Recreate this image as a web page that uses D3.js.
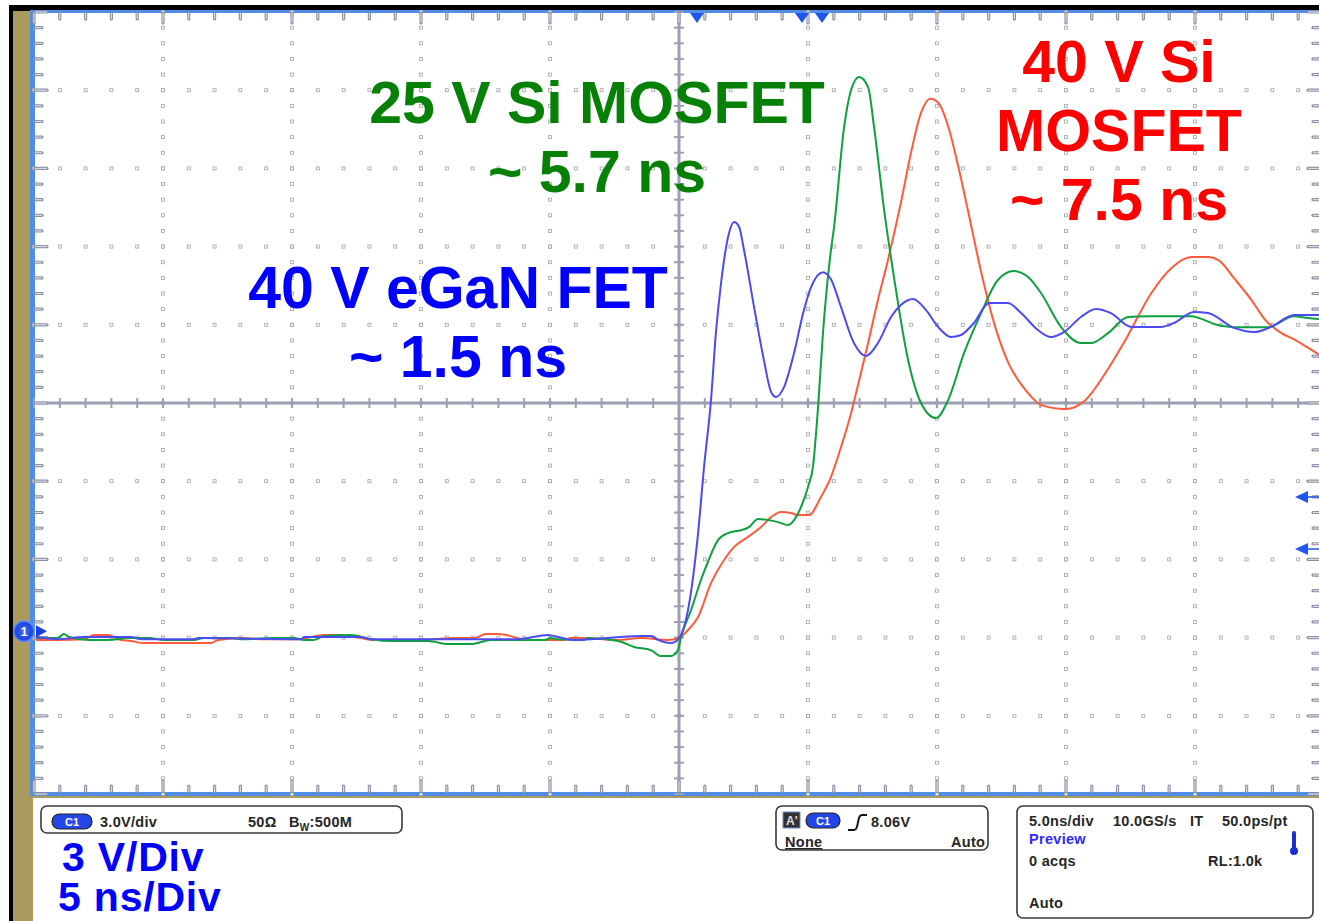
<!DOCTYPE html>
<html>
<head>
<meta charset="utf-8">
<script src="https://cdn.jsdelivr.net/npm/d3@7"></script>
<style>
  body { margin: 0; background: #fff; }
  svg { display: block; font-family: "Liberation Sans", Arial, sans-serif; }
</style>
</head>
<body>
<svg id="scope" width="1319" height="921"></svg>
<script>
// ---- data (time in ns, volts in V) ----
const ganTime = [-24.92,-24.07,-23.06,-21.24,-20.85,-18.80,-18.64,-14.65,-14.53,-12.33,-11.94,-8.57,-6.24,-5.08,-4.84,-4.07,-3.41,-1.47,-1.09,-0.81,-0.31,0,0.35,0.74,0.97,1.24,1.43,1.63,1.94,2.13,2.33,2.52,2.91,3.29,3.57,3.76,4.07,4.46,4.84,5.12,5.58,5.89,6.28,6.78,7.25,7.71,8.22,8.60,9.07,9.57,10.04,10.54,10.93,11.43,12.02,12.75,13.26,13.91,14.42,14.92,15.58,16.16,16.74,17.52,18.68,19.19,19.96,20.50,21.51,22.29,22.95,23.84,24.84];
const ganVolts = [-0.22,-0.30,-0.22,-0.22,-0.30,-0.30,-0.26,-0.30,-0.22,-0.22,-0.30,-0.30,-0.30,-0.14,-0.18,-0.33,-0.30,-0.18,-0.18,-0.33,-0.45,-0.26,0.82,3.77,6.30,8.87,11.44,13.36,15.28,15.70,15.51,14.63,12.44,10.41,9.18,8.99,9.37,10.68,12.32,13.21,13.78,13.51,12.44,11.06,10.56,11.06,12.06,12.52,12.75,12.33,11.68,11.29,11.37,11.83,12.60,12.60,12.21,11.56,11.29,11.48,12.06,12.37,12.21,11.68,11.68,11.83,12.25,12.21,11.64,11.48,11.68,12.14,12.14];

const si25Time = [-24.92,-24.07,-23.84,-23.64,-22.87,-22.13,-21.32,-20.54,-19.96,-18.80,-18.41,-17.36,-16.86,-15.81,-14.92,-14.53,-14.15,-13.76,-12.71,-11.94,-11.05,-9.73,-8.95,-8.06,-7.29,-6.24,-5.23,-4.96,-4.69,-3.68,-3.53,-2.36,-1.74,-1.09,-0.70,-0.31,-0.04,0.08,0.47,0.85,1.12,1.51,1.90,2.40,2.71,3.06,3.45,3.84,4.22,4.46,4.73,5.00,5.19,5.39,5.58,5.89,6.01,6.40,6.67,6.98,7.33,7.56,7.95,8.33,8.88,9.38,9.96,10.43,11.05,11.71,12.36,12.98,13.53,14.03,14.81,15.58,15.97,16.63,17.40,18.18,19.19,19.84,20.89,21.51,22.44,22.83,23.84,24.38,24.84];
const si25Volts = [-0.26,-0.26,-0.10,-0.22,-0.33,-0.33,-0.26,-0.26,-0.33,-0.33,-0.26,-0.26,-0.30,-0.26,-0.26,-0.33,-0.33,-0.18,-0.14,-0.30,-0.37,-0.37,-0.49,-0.49,-0.33,-0.33,-0.33,-0.26,-0.30,-0.33,-0.26,-0.37,-0.60,-0.72,-0.95,-0.95,-0.72,-0.22,0.82,1.97,2.66,3.50,3.77,3.88,4.00,4.31,4.27,4.19,4.08,4.27,4.77,5.54,6.30,8.60,11.44,14.63,15.51,19.35,20.77,21.27,20.88,19.35,16.17,13.60,10.41,8.76,8.18,8.87,10.68,12.21,13.48,13.82,13.59,12.98,11.67,11.06,11.06,11.44,12.06,12.09,12.09,12.09,11.75,11.67,11.67,11.67,12.09,12.02,11.98];

const si40Time = [-24.92,-24.07,-23.06,-22.67,-22.13,-21.74,-21.24,-20.74,-18.14,-17.87,-16.86,-16.09,-14.77,-13.76,-13.22,-12.33,-11.94,-10.12,-8.57,-7.95,-7.48,-7.02,-6.24,-6.01,-4.46,-4.19,-3.80,-2.36,-1.47,-0.43,0,0.35,0.74,1.24,1.74,2.13,2.67,3.18,3.57,3.95,4.34,4.61,5.04,5.50,5.89,6.28,6.67,6.94,7.33,7.71,8.10,8.60,8.99,9.38,9.74,10.06,10.44,10.83,11.22,11.72,12.26,12.77,13.43,14.05,14.98,15.75,16.53,17.30,18.31,19.09,19.86,20.52,20.91,21.57,22.19,22.73,23.35,23.90,24.28,24.84];
const si40Volts = [-0.33,-0.33,-0.30,-0.14,-0.14,-0.30,-0.37,-0.45,-0.45,-0.33,-0.26,-0.30,-0.30,-0.14,-0.14,-0.26,-0.33,-0.33,-0.26,-0.26,-0.10,-0.10,-0.26,-0.33,-0.33,-0.26,-0.26,-0.33,-0.26,-0.33,-0.26,0.05,0.55,1.85,2.73,3.23,3.62,4.00,4.38,4.58,4.54,4.46,4.46,5.15,5.92,7.07,8.37,9.45,11.06,12.71,14.25,16.44,18.35,19.89,20.43,20.27,19.35,17.81,16.05,13.75,11.67,10.29,9.26,8.68,8.53,8.87,9.91,11.17,12.98,13.94,14.36,14.36,14.24,13.48,12.71,11.94,11.44,11.17,10.94,10.60];

const ganLabel = ["40 V eGaN FET", "~ 1.5 ns"];
const si25Label = ["25 V Si MOSFET", "~ 5.7 ns"];
const si40Label = ["40 V Si", "MOSFET", "~ 7.5 ns"];
const scaleLabel = ["3 V/Div", "5 ns/Div"];

const nsPerDiv = 5, voltsPerDiv = 3, vBottom = -6.24;

// ---- layout ----
const svg = d3.select("#scope");
const W = 1319, H = 921;
const plot = { left: 34, right: 1324, top: 12, bottom: 794 };

const x = d3.scaleLinear().domain([-5 * nsPerDiv, 5 * nsPerDiv]).range([plot.left, plot.right]);
const y = d3.scaleLinear().domain([vBottom, vBottom + 10 * voltsPerDiv]).range([plot.bottom, plot.top]);

const majorT = d3.range(-5, 6).map(i => i * nsPerDiv);
const minorT = d3.range(-25, 26).map(i => i * nsPerDiv / 5);
const majorV = d3.range(0, 11).map(i => vBottom + i * voltsPerDiv);
const minorV = d3.range(0, 51).map(i => vBottom + i * voltsPerDiv / 5);
const centerV = vBottom + 5 * voltsPerDiv;
const isMajorT = t => Math.abs(t / nsPerDiv - Math.round(t / nsPerDiv)) < 1e-6;
const isMajorV = v => Math.abs((v - vBottom) / voltsPerDiv - Math.round((v - vBottom) / voltsPerDiv)) < 1e-6;

svg.append("rect").attr("width", W).attr("height", H).attr("fill", "#fff");

// bezel
svg.append("rect").attr("x", 9).attr("y", 5).attr("width", W).attr("height", 6).attr("fill", "#000");
svg.append("rect").attr("x", 9).attr("y", 5).attr("width", 4).attr("height", H).attr("fill", "#000");
svg.append("rect").attr("x", 13).attr("y", 11).attr("width", 20).attr("height", H).attr("fill", "#ab9a5e");
svg.append("rect").attr("x", 13).attr("y", 795).attr("width", W).attr("height", 3).attr("fill", "#ab9a5e");
svg.append("rect").attr("x", 30).attr("y", 10).attr("width", 5).attr("height", 786).attr("fill", "#4f8de8");
svg.append("rect").attr("x", 30).attr("y", 10).attr("width", W).attr("height", 3).attr("fill", "#4f8de8");
svg.append("rect").attr("x", 30).attr("y", 792).attr("width", W).attr("height", 4).attr("fill", "#4f8de8");

const g = svg.append("g");

// dotted graticule
const dots = [];
majorT.filter(t => t !== 0 && Math.abs(t) < 25).forEach(t =>
  minorV.forEach(v => dots.push([x(t), y(v)])));
majorV.filter(v => Math.abs(v - centerV) > 1e-6 && v > vBottom + 0.1 && v < vBottom + 29.9).forEach(v =>
  minorT.forEach(t => dots.push([x(t), y(v)])));
g.selectAll("rect.dot").data(dots).join("rect")
  .attr("class", "dot")
  .attr("x", d => d[0] - 1.5).attr("y", d => d[1] - 1.5)
  .attr("width", 3).attr("height", 3)
  .attr("fill", "#fff").attr("stroke", "#a2a2a2").attr("stroke-width", 0.8);

// centre axes
const tickCol = "#9ba0b2";
g.append("line").attr("x1", x(0)).attr("x2", x(0)).attr("y1", plot.top).attr("y2", plot.bottom)
  .attr("stroke", tickCol).attr("stroke-width", 3);
g.append("line").attr("x1", plot.left).attr("x2", plot.right).attr("y1", y(centerV)).attr("y2", y(centerV))
  .attr("stroke", tickCol).attr("stroke-width", 3);
g.selectAll("line.cv").data(minorV).join("line").attr("class", "cv")
  .attr("x1", x(0) - 5).attr("x2", x(0) + 5)
  .attr("y1", d => y(d)).attr("y2", d => y(d))
  .attr("stroke", tickCol).attr("stroke-width", 2);
g.selectAll("line.ch").data(minorT).join("line").attr("class", "ch")
  .attr("x1", d => x(d)).attr("x2", d => x(d))
  .attr("y1", y(centerV) - 5).attr("y2", y(centerV) + 5)
  .attr("stroke", tickCol).attr("stroke-width", 2);

// edge ticks
function edgeTicks(cls, data, fn) {
  const sel = g.selectAll("g." + cls).data(data).join("g").attr("class", cls);
  sel.append("line").call(fn).attr("stroke", "#8c91a3").attr("stroke-width", 3.2).attr("stroke-linecap", "round");
  sel.append("line").call(fn).attr("stroke", "#e4e6ee").attr("stroke-width", 1);
}
edgeTicks("tt", minorT, s => s.attr("x1", d => x(d)).attr("x2", d => x(d))
  .attr("y1", plot.top + 1).attr("y2", d => plot.top + (isMajorT(d) ? 11 : 7)));
edgeTicks("bt", minorT, s => s.attr("x1", d => x(d)).attr("x2", d => x(d))
  .attr("y1", plot.bottom - 2).attr("y2", d => plot.bottom - (isMajorT(d) ? 13 : 8)));
edgeTicks("lt", minorV, s => s.attr("y1", d => y(d)).attr("y2", d => y(d))
  .attr("x1", plot.left + 1).attr("x2", d => plot.left + (isMajorV(d) ? 13 : 8)));
edgeTicks("rt", minorV, s => s.attr("y1", d => y(d)).attr("y2", d => y(d))
  .attr("x1", plot.right - 4).attr("x2", d => plot.right - (isMajorV(d) ? 16 : 11)));

// traces
svg.append("clipPath").attr("id", "clip").append("rect")
  .attr("x", plot.left).attr("y", plot.top).attr("width", plot.right - plot.left).attr("height", plot.bottom - plot.top);
const line = d3.line().x(d => x(d[0])).y(d => y(d[1])).curve(d3.curveMonotoneX);
const traces = [
  { t: si40Time, v: si40Volts, color: "#ff5a3c" },
  { t: si25Time, v: si25Volts, color: "#0fa040" },
  { t: ganTime, v: ganVolts, color: "#4b4bf4" }
];
svg.append("g").attr("clip-path", "url(#clip)").selectAll("path").data(traces).join("path")
  .attr("d", d => line(d3.zip(d.t, d.v)))
  .attr("fill", "none").attr("stroke", d => d.color).attr("stroke-width", 2)
  .attr("stroke-linejoin", "round");

// markers: time references on top, level arrows on right, ground on left
const markBlue = "#1e56ee";
[697, 802, 822].forEach(px => svg.append("path")
  .attr("d", `M${px - 7},13 L${px + 7},13 L${px},23 Z`).attr("fill", markBlue));
[497, 549].forEach(py => {
  svg.append("line").attr("x1", 1305).attr("x2", 1319).attr("y1", py).attr("y2", py)
    .attr("stroke", markBlue).attr("stroke-width", 1.5);
  svg.append("path").attr("d", `M1295,${py} L1308,${py - 6} L1308,${py + 6} Z`).attr("fill", markBlue);
});
const gy = y(0);
svg.append("path").attr("d", `M36,${gy - 6} L47,${gy} L36,${gy + 6} Z`).attr("fill", "#1a3ee0");
const grad = svg.append("defs").append("radialGradient").attr("id", "gball");
grad.append("stop").attr("offset", "0%").attr("stop-color", "#3b6cf5");
grad.append("stop").attr("offset", "75%").attr("stop-color", "#1f46e0");
grad.append("stop").attr("offset", "100%").attr("stop-color", "#6d9cff");
svg.append("circle").attr("cx", 24).attr("cy", gy).attr("r", 11).attr("fill", "url(#gball)");
svg.append("text").attr("x", 24).attr("y", gy + 5).attr("text-anchor", "middle")
  .attr("fill", "#fff").attr("font-size", 13).attr("font-weight", "bold").text("1");

// annotations
function label(lines, cx, y0, color) {
  svg.append("text").attr("text-anchor", "middle").attr("fill", color)
    .attr("font-size", 59).attr("font-weight", "bold")
    .selectAll("tspan").data(lines).join("tspan")
    .attr("x", cx).attr("y", (d, i) => y0 + i * 69).text(d => d);
}
label(si25Label, 597, 123, "#078007");
label(ganLabel, 458, 308, "#0000ff");
label(si40Label, 1119, 82, "#ff0000");

scaleLabel.forEach((s, i) => svg.append("text")
  .attr("x", i ? 58 : 62).attr("y", 871 + i * 40)
  .attr("fill", "#0000ff").attr("font-size", 41).attr("font-weight", "bold")
  .attr("letter-spacing", 0.8).text(s));

// status boxes
const ink = "#262626";
function box(bx, by, bw, bh) {
  svg.append("rect").attr("x", bx).attr("y", by).attr("width", bw).attr("height", bh).attr("rx", 6)
    .attr("fill", "#fff").attr("stroke", "#3a3a3a").attr("stroke-width", 1.6);
}
function small(tx, ty, s, opts = {}) {
  return svg.append("text").attr("x", tx).attr("y", ty).attr("font-size", opts.size || 14.5)
    .attr("font-weight", "bold").attr("letter-spacing", 0.3).attr("fill", opts.fill || ink).text(s);
}
function pill(px, py, pw) {
  svg.append("rect").attr("x", px).attr("y", py).attr("width", pw).attr("height", 15).attr("rx", 7.5)
    .attr("fill", "#2446e6").attr("stroke", "#222").attr("stroke-width", 1.2);
  svg.append("text").attr("x", px + pw / 2).attr("y", py + 11.5).attr("text-anchor", "middle")
    .attr("font-size", 11).attr("font-weight", "bold").attr("fill", "#fff").text("C1");
}

box(41, 806, 361, 27);
pill(52, 814, 40);
small(100, 827, "3.0V/div");
small(248, 827, "50Ω");
const bw = small(289, 827, "B");
bw.append("tspan").attr("dy", 4).attr("font-size", 10).text("W");
bw.append("tspan").attr("dy", -4).text(":500M");

box(776, 806, 212, 44);
svg.append("rect").attr("x", 783).attr("y", 812).attr("width", 17).attr("height", 16).attr("fill", "#333")
  .attr("stroke", "#6a8fd8").attr("stroke-width", 1);
svg.append("text").attr("x", 786).attr("y", 825).attr("font-size", 12).attr("font-weight", "bold")
  .attr("fill", "#ddd").text("A'");
pill(806, 813, 34);
svg.append("path").attr("d", "M848,830 L854,830 Q857,830 858,822 Q859,815 862,815 L867,815")
  .attr("fill", "none").attr("stroke", "#111").attr("stroke-width", 2);
small(871, 827, "8.06V");
small(785, 847, "None").attr("text-decoration", "underline");
small(951, 847, "Auto");

box(1017, 806, 296, 112);
small(1029, 826, "5.0ns/div");
small(1113, 826, "10.0GS/s");
small(1190, 826, "IT");
small(1222, 826, "50.0ps/pt");
small(1029, 844, "Preview", { fill: "#2b2bff" });
small(1029, 866, "0 acqs");
small(1208, 866, "RL:1.0k");
small(1029, 908, "Auto");
svg.append("rect").attr("x", 1292).attr("y", 831).attr("width", 4).attr("height", 20).attr("rx", 2).attr("fill", "#1a2fd0");
svg.append("circle").attr("cx", 1294).attr("cy", 851).attr("r", 4).attr("fill", "#1a2fd0");
</script>
</body>
</html>
